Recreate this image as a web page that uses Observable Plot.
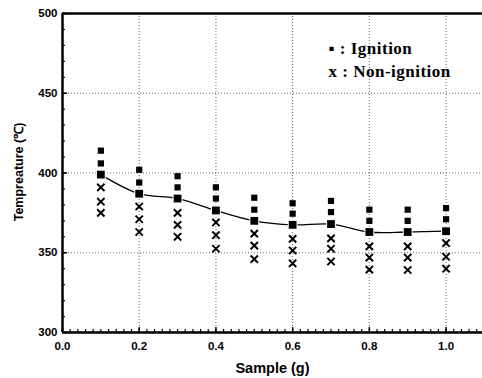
<!DOCTYPE html>
<html>
<head>
<meta charset="utf-8">
<script src="https://cdn.jsdelivr.net/npm/d3@7"></script>
<script src="https://cdn.jsdelivr.net/npm/@observablehq/plot@0.6"></script>
<style>
  html, body { margin: 0; padding: 0; background: #fff; }
  #chart svg { display: block; }
  .legend text { letter-spacing: 0.5px; }
</style>
</head>
<body>
<div id="chart"></div>
<script>
// Sample mass (g)
const samples = [0.1, 0.2, 0.3, 0.4, 0.5, 0.6, 0.7, 0.8, 0.9, 1.0];
// Ignition temperatures (three per sample, top to bottom; the lowest is the ignition limit)
const ignitionHigh = [414, 402, 398, 391, 384.5, 381, 382.5, 377, 377, 378];
const ignitionMid  = [406, 394, 391, 384, 377, 374.5, 375.5, 370, 370, 371];
const ignitionLow  = [399, 387, 384, 376.5, 370, 367.5, 368, 363, 363, 363.5];
// Non-ignition temperatures
const nonHigh = [391, 379, 375, 369, 362, 358.7, 359, 354, 354, 356];
const nonMid  = [382, 371, 367.5, 361, 354.5, 351.4, 352.5, 347, 347, 347.5];
const nonLow  = [375, 363, 360, 352.5, 346, 343.4, 344.5, 339.4, 339.2, 340];
// Axis ticks
const xMajor = [0.0, 0.2, 0.4, 0.6, 0.8, 1.0];
const xMinor = d3.range(0, 1.095, 0.02);
const yMajor = [300, 350, 400, 450, 500];
const yMinor = d3.range(300, 501, 10);
const xGrid = [0.2, 0.4, 0.6, 0.8, 1.0];
const yGrid = [350, 400, 450];
const legendIgnition = "\u25AA : Ignition";
const legendNonIgnition = "x : Non-ignition";

const ignSmall = samples.flatMap((s, i) => [
  {x: s, y: ignitionHigh[i]}, {x: s, y: ignitionMid[i]}
]);
const ignLimit = samples.map((s, i) => ({x: s, y: ignitionLow[i]}));
const nonIgn = samples.flatMap((s, i) => [
  {x: s, y: nonHigh[i]}, {x: s, y: nonMid[i]}, {x: s, y: nonLow[i]}
]);

const sans = "'Liberation Sans', Arial, sans-serif";
const serif = "'Liberation Serif', 'Times New Roman', serif";
const legendStyle = {frameAnchor: "top-left", dx: 266, fontSize: 17, fontWeight: "bold",
  fontFamily: serif, fill: "#000", textAnchor: "start", className: "legend"};

const chart = Plot.plot({
  width: 482,
  height: 378,
  marginLeft: 62,
  marginRight: 0,
  marginTop: 13,
  marginBottom: 46,
  style: {fontFamily: sans, background: "#fff", overflow: "visible"},
  x: {domain: [0, 1.095]},
  y: {domain: [300, 500]},
  marks: [
    Plot.gridX(xGrid, {stroke: "#444", strokeOpacity: 0.8, strokeDasharray: "1,2", strokeWidth: 1}),
    Plot.gridY(yGrid, {stroke: "#444", strokeOpacity: 0.8, strokeDasharray: "1,2", strokeWidth: 1}),
    // frame
    Plot.ruleX([0], {stroke: "#000", strokeWidth: 2.5}),
    Plot.ruleY([300], {stroke: "#000", strokeWidth: 2.5}),
    Plot.ruleY([500], {stroke: "#000", strokeWidth: 2.5}),
    // inward ticks
    Plot.axisY(yMajor, {tickSize: -5, text: null, label: null, strokeWidth: 1.5, stroke: "#000"}),
    Plot.axisY(yMinor, {tickSize: -3, text: null, label: null, strokeWidth: 1.2, stroke: "#000"}),
    Plot.axisX(xMajor, {tickSize: -5, text: null, label: null, strokeWidth: 1.5, stroke: "#000"}),
    Plot.axisX(xMinor, {tickSize: -3, text: null, label: null, strokeWidth: 1.2, stroke: "#000"}),
    // tick labels
    Plot.axisY(yMajor, {tickSize: 0, tickPadding: 5, label: null, fontSize: 11.5, fontWeight: "bold", fill: "#000", tickFormat: d => d}),
    Plot.axisX(xMajor, {tickSize: 0, tickPadding: 9, label: null, fontSize: 11.5, fontWeight: "bold", fill: "#000", tickFormat: d => d.toFixed(1)}),
    // axis titles
    Plot.text(["Sample (g)"], {frameAnchor: "bottom", dy: 40, dx: 0, fontSize: 14.5, fontWeight: "bold", fill: "#000"}),
    Plot.text(["Tempreature (\u2103)"], {frameAnchor: "left", textAnchor: "middle", dx: -44, dy: -1, rotate: -90, fontSize: 12.5, fontWeight: "bold", fill: "#000"}),
    // data
    Plot.line(ignLimit, {x: "x", y: "y", curve: "catmull-rom", stroke: "#000", strokeWidth: 1.3}),
    Plot.dot(ignSmall, {x: "x", y: "y", symbol: "square", r: 3.5, fill: "#000", stroke: "none"}),
    Plot.dot(ignLimit, {x: "x", y: "y", symbol: "square", r: 4.4, fill: "#000", stroke: "#fff", strokeWidth: 2, paintOrder: "stroke"}),
    Plot.dot(nonIgn, {x: "x", y: "y", symbol: "times", r: 3.4, stroke: "#000", strokeWidth: 2, fill: "none"}),
    // legend
    Plot.text([legendIgnition], {...legendStyle, dy: 28}),
    Plot.text([legendNonIgnition], {...legendStyle, dy: 51})
  ]
});
document.getElementById("chart").append(chart);
</script>
</body>
</html>
